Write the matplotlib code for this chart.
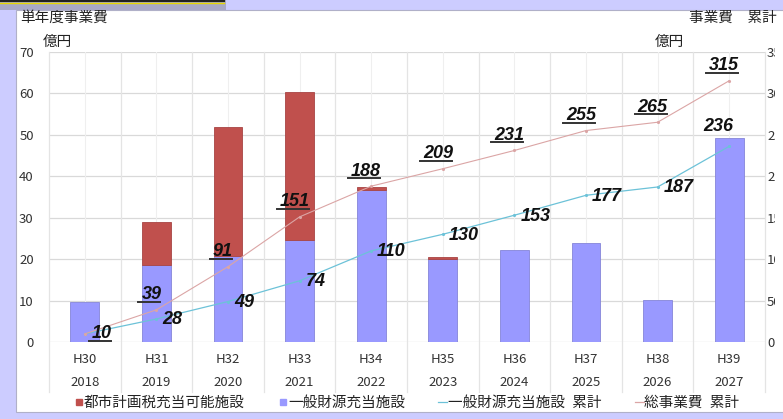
import numpy as np
from matplotlib import pyplot as plt
from matplotlib.patches import Rectangle
from matplotlib.lines import Line2D

plt.rcParams['font.family'] = ['Noto Sans CJK JP', 'DejaVu Sans']

## data (億円)
wareki = ['H30', 'H31', 'H32', 'H33', 'H34', 'H35', 'H36', 'H37', 'H38', 'H39']
years = ['2018', '2019', '2020', '2021', '2022', '2023', '2024', '2025', '2026', '2027']
toshi = [0, 10.4, 31.1, 35.7, 0.7, 0.5, 0, 0, 0, 0]           # 都市計画税充当可能施設
ippan = [9.7, 18.6, 20.8, 24.6, 36.7, 20.0, 22.2, 24.0, 10.1, 49.3]  # 一般財源充当施設
ippan_cum = [10, 28, 49, 74, 110, 130, 153, 177, 187, 236]     # 一般財源充当施設 累計
total_cum = [10, 39, 91, 151, 188, 209, 231, 255, 265, 315]    # 総事業費 累計

W, H = 783, 419
fig = plt.figure(figsize=(W/100, H/100), dpi=100)
fig.patch.set_facecolor('#ccccff')

def fx(px): return px/W
def fy(py): return 1-py/H

## white panel and the cut-off box at the top
fig.patches.append(Rectangle((fx(16), fy(412)), fx(W), fy(10)-fy(412), transform=fig.transFigure,
                             facecolor='white', edgecolor='#b0b0c8', lw=0.8, zorder=-5))
fig.patches.append(Rectangle((0, fy(10)), fx(226), fy(0)-fy(10), transform=fig.transFigure,
                             facecolor='#a9a9c6', edgecolor='none', zorder=-5))
fig.lines.append(Line2D([0, fx(224)], [fy(1.5), fy(1.5)], transform=fig.transFigure, color='#222222', lw=1.5, zorder=-4))
fig.lines.append(Line2D([0, fx(224)], [fy(3), fy(3)], transform=fig.transFigure, color='#e8d800', lw=1.0, zorder=-4))

ax = fig.add_axes([fx(49), fy(342.2), fx(765)-fx(49), fy(51.7)-fy(342.2)])
ax.patch.set_alpha(0)
x = np.arange(len(wareki))

## grid
for v in np.arange(10, 71, 10):
    ax.axhline(v, color='#d9d9d9', lw=0.9, zorder=0)
ax.axhline(0, color='#d0d0d0', lw=0.9, zorder=0)
for xc in x:
    ax.axvline(xc, color='#efefef', lw=0.8, zorder=0)
for xb in np.arange(-0.5, 10.0, 1.0):
    ax.plot([xb, xb], [-0.17, 1], transform=ax.get_xaxis_transform(), color='#e4e4e4',
            lw=0.9, zorder=0, clip_on=False)

## zero parts are not drawn (no stray edge on top of the blue bars)
toshi_h = [v if v > 0 else np.nan for v in toshi]
b1 = ax.bar(x, ippan, 0.4, color='#9999ff', edgecolor='#8585d8', lw=0.6, zorder=2)
b2 = ax.bar(x, toshi_h, 0.4, bottom=ippan, color='#c0504d', edgecolor='#a84444', lw=0.6, zorder=2)

ax.set_xlim(-0.5, 9.5)
ax.set_ylim(0, 70)
ax.set_yticks(np.arange(0, 71, 10))
ax.set_xticks(x)
ax.set_xticklabels([w+'\n'+y for w, y in zip(wareki, years)], linespacing=2.0)
ax.tick_params(axis='both', length=0, labelsize=9.5, labelcolor='#333333')
ax.tick_params(axis='y', pad=11)
ax.tick_params(axis='x', pad=7.5)
for s in ax.spines.values():
    s.set_visible(False)

ax2 = ax.twinx()
ax2.set_ylim(0, 350)
ax2.set_yticks(np.arange(0, 351, 50))
ax2.tick_params(axis='y', length=0, labelsize=9.5, labelcolor='#333333', pad=1.5)
for s in ax2.spines.values():
    s.set_visible(False)

l1, = ax2.plot(x, ippan_cum, color='#6cc2d8', lw=0.9, marker='.', ms=2.5, zorder=3)
l2, = ax2.plot(x, total_cum, color='#dba5a5', lw=0.8, marker='.', ms=2.5, zorder=3)

lab = dict(family=['Liberation Sans', 'DejaVu Sans'], fontsize=13, fontweight='bold',
           fontstyle='italic', color='#111111', zorder=5)
under = []
for i, v in enumerate(total_cum):
    if i == 0:
        t = ax2.annotate(str(v), (x[i], v), xytext=(7, 0), textcoords='offset pixels',
                         ha='left', va='center', **lab)
    else:
        t = ax2.annotate(str(v), (x[i], v), xytext=(-5, 15), textcoords='offset pixels',
                         ha='center', va='center', **lab)
    under.append(t)
for i, v in enumerate(ippan_cum):
    if i == 0:
        continue
    if i == len(ippan_cum)-1:
        ax2.annotate(str(v), (x[i], v), xytext=(-11, 20), textcoords='offset pixels',
                     ha='center', va='center', **lab)
    else:
        ax2.annotate(str(v), (x[i], v), xytext=(6, -1), textcoords='offset pixels',
                     ha='left', va='center', **lab)

## titles / units
fig.text(fx(20), fy(18), '単年度事業費', fontsize=10.5, color='#222222', va='center')
fig.text(fx(43), fy(42), '億円', fontsize=10.5, color='#222222', va='center')
fig.text(fx(777), fy(18), '事業費\u3000累計', fontsize=10.5, color='#222222', va='center', ha='right')
fig.text(fx(655), fy(42), '億円', fontsize=10.5, color='#222222', va='center')

## legend
h1 = Line2D([], [], ls='none', marker='s', ms=5, color='#c0504d')
h2 = Line2D([], [], ls='none', marker='s', ms=5, color='#9999ff')
h3 = Line2D([], [], color='#6cc2d8', lw=0.9)
h4 = Line2D([], [], color='#dba5a5', lw=0.9)
fig.legend([h1, h2, h3, h4], ['都市計画税充当可能施設', '一般財源充当施設', '一般財源充当施設\u2002累計', '総事業費\u2002累計'],
           ncol=4, loc='center', bbox_to_anchor=(fx(407), fy(403)), frameon=False, fontsize=10.5,
           handlelength=0.6, handletextpad=0.05, columnspacing=2.3, labelcolor='#222222')

## underline the 総事業費 labels
fig.canvas.draw()
r = fig.canvas.get_renderer()
for t in under:
    bb = t.get_window_extent(r)
    yl = bb.y0 + 1.5
    fig.lines.append(Line2D([(bb.x0-3)/W, (bb.x1-1)/W], [yl/H, yl/H], transform=fig.transFigure,
                            color='#333333', lw=1.4, zorder=6))

## the right-hand tick labels are cut off in the original chart
fig.patches.append(Rectangle((fx(775), fy(360)), fx(W), fy(48)-fy(360), transform=fig.transFigure,
                             facecolor='white', edgecolor='none', zorder=10))

fig.savefig('out.png', dpi=100, facecolor=fig.get_facecolor())
